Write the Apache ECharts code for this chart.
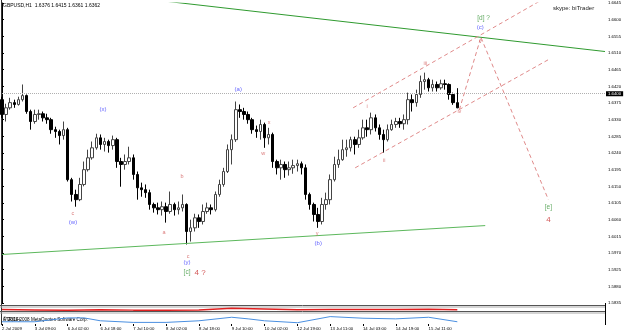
<!DOCTYPE html>
<html>
<head>
<meta charset="utf-8">
<script src="https://cdn.jsdelivr.net/npm/echarts@6/dist/echarts.min.js"></script>
<style>
html,body{margin:0;padding:0;background:#fff}
#ch{width:625px;height:334px}
</style>
</head>
<body>
<div id="ch"></div>
<script>
// GBPUSD H1, candles (2-hour steps)
var timeLabels = ['2 Jul 2009','3 Jul 09:00','6 Jul 02:00','6 Jul 18:00','7 Jul 10:00','8 Jul 02:00','8 Jul 18:00',
                  '9 Jul 10:00','10 Jul 02:00','12 Jul 19:00','13 Jul 11:00','14 Jul 03:00','14 Jul 19:00','15 Jul 11:00'];

var opens = [1.6384,1.6344,1.6362,1.6376,1.6371,1.6384,1.6395,1.6352,1.6325,1.6344,1.6346,1.6335,1.6330,1.6303,1.6298,1.6287,
  1.6303,1.6168,1.6128,1.6114,1.6155,1.6195,1.6227,1.6254,1.6281,1.6263,1.6271,1.6260,1.6276,1.6217,1.6209,1.6217,
  1.6227,1.6182,1.6146,1.6141,1.6133,1.6101,1.6092,1.6087,1.6095,1.6082,1.6101,1.6087,1.6092,1.6101,1.6028,1.6038,
  1.6065,1.6055,1.6082,1.6092,1.6087,1.6128,1.6155,1.6190,1.6249,1.6276,1.6357,1.6352,1.6344,1.6330,1.6303,1.6298,
  1.6317,1.6281,1.6290,1.6217,1.6200,1.6209,1.6195,1.6200,1.6206,1.6211,1.6200,1.6128,1.6101,1.6074,1.6055,1.6101,
  1.6114,1.6168,1.6209,1.6222,1.6249,1.6254,1.6276,1.6263,1.6281,1.6308,1.6303,1.6335,1.6308,1.6290,1.6276,1.6303,
  1.6317,1.6325,1.6319,1.6330,1.6384,1.6376,1.6398,1.6433,1.6438,1.6416,1.6425,1.6416,1.6427,1.6425,1.6398,1.6376];
var closes = [1.6344,1.6362,1.6376,1.6371,1.6384,1.6395,1.6352,1.6325,1.6344,1.6346,1.6335,1.6330,1.6303,1.6298,1.6287,1.6303,
  1.6168,1.6128,1.6114,1.6155,1.6195,1.6227,1.6254,1.6281,1.6263,1.6271,1.6260,1.6276,1.6217,1.6209,1.6217,1.6227,
  1.6182,1.6146,1.6141,1.6133,1.6101,1.6092,1.6087,1.6095,1.6082,1.6101,1.6087,1.6092,1.6101,1.6028,1.6038,1.6065,
  1.6055,1.6082,1.6092,1.6087,1.6128,1.6155,1.6190,1.6249,1.6276,1.6357,1.6352,1.6344,1.6330,1.6303,1.6298,1.6317,
  1.6281,1.6290,1.6217,1.6200,1.6209,1.6195,1.6200,1.6206,1.6211,1.6200,1.6128,1.6101,1.6074,1.6055,1.6101,1.6114,
  1.6168,1.6209,1.6222,1.6249,1.6254,1.6276,1.6263,1.6281,1.6308,1.6303,1.6335,1.6308,1.6290,1.6276,1.6303,1.6317,
  1.6325,1.6319,1.6330,1.6384,1.6376,1.6398,1.6433,1.6438,1.6416,1.6425,1.6416,1.6427,1.6425,1.6398,1.6376,1.6362];
var lows = [1.6335,1.6325,1.6357,1.6362,1.6368,1.6379,1.6346,1.6303,1.6319,1.6330,1.6325,1.6319,1.6292,1.6281,1.6263,1.6276,
  1.6163,1.6109,1.6095,1.6110,1.6150,1.6190,1.6222,1.6249,1.6249,1.6244,1.6241,1.6249,1.6200,1.6149,1.6195,1.6209,
  1.6168,1.6114,1.6122,1.6119,1.6087,1.6079,1.6074,1.6071,1.6052,1.6076,1.6071,1.6074,1.6082,1.5993,1.6001,1.6028,
  1.6038,1.6047,1.6076,1.6074,1.6082,1.6122,1.6149,1.6186,1.6209,1.6270,1.6335,1.6330,1.6319,1.6292,1.6281,1.6276,
  1.6254,1.6263,1.6200,1.6182,1.6168,1.6173,1.6179,1.6184,1.6190,1.6182,1.6114,1.6087,1.6055,1.6038,1.6047,1.6087,
  1.6101,1.6163,1.6200,1.6219,1.6230,1.6244,1.6236,1.6254,1.6276,1.6284,1.6290,1.6298,1.6276,1.6241,1.6271,1.6300,
  1.6308,1.6308,1.6303,1.6317,1.6352,1.6365,1.6389,1.6411,1.6406,1.6406,1.6406,1.6411,1.6411,1.6384,1.6370,1.6361];
var highs = [1.6392,1.6373,1.6389,1.6384,1.6392,1.6425,1.6398,1.6357,1.6357,1.6357,1.6352,1.6346,1.6335,1.6311,1.6303,1.6325,
  1.6308,1.6173,1.6141,1.6173,1.6217,1.6249,1.6271,1.6292,1.6290,1.6281,1.6276,1.6287,1.6281,1.6227,1.6236,1.6257,
  1.6236,1.6190,1.6160,1.6155,1.6141,1.6106,1.6106,1.6109,1.6106,1.6136,1.6106,1.6109,1.6128,1.6104,1.6060,1.6076,
  1.6074,1.6101,1.6106,1.6101,1.6136,1.6168,1.6200,1.6263,1.6290,1.6379,1.6371,1.6362,1.6352,1.6335,1.6314,1.6330,
  1.6322,1.6308,1.6295,1.6222,1.6222,1.6217,1.6217,1.6222,1.6222,1.6217,1.6209,1.6133,1.6106,1.6092,1.6119,1.6133,
  1.6182,1.6230,1.6249,1.6276,1.6276,1.6284,1.6284,1.6303,1.6330,1.6330,1.6349,1.6344,1.6317,1.6303,1.6317,1.6330,
  1.6335,1.6335,1.6344,1.6403,1.6398,1.6411,1.6449,1.6457,1.6443,1.6438,1.6433,1.6438,1.6438,1.6428,1.6403,1.6415];

var barCount = 148;          // slots on the time axis, incl. empty space on the right
var priceTicks = {min: 1.5835, max: 1.6645, step: 0.0045};

// ATR(14) and the small oscillator panel, read every 8 bars
var atrIdx  = [0, 8, 16, 20, 24, 32, 40, 48, 56, 60, 64, 72, 80, 88, 96, 104, 111];
var atrVals = [0.0019,0.0019,0.0031,0.0031,0.0022,0.0017,0.0017,0.0022,0.0033,0.0028,0.0022,0.0016,0.0035,0.0030,0.0028,0.0033,0.0019];
var atrLevels = [0.0040, 0.0015];
var oscIdx  = [0, 8, 16, 24, 32, 40, 48, 56, 64, 72, 80, 88, 96, 104, 111];
var oscVals = [0.4,0.3,0.2,0.35,0.25,0.25,0.3,0.8,0.6,0.35,0.4,0.45,0.45,0.5,0.35];

// trend lines: [bar index, price]
var greenTop    = [[40.5, 1.6649], [147, 1.6514]];
var greenBottom = [[0, 1.5966], [117.8, 1.6044]];
var channelUp   = [[85.6, 1.6362], [131.7, 1.6654]];
var channelLow  = [[86.1, 1.6200], [133.2, 1.6492]];
var legToV      = [[111.5, 1.6357], [116.7, 1.6551]];
var legToE      = [[116.8, 1.6551], [133.2, 1.6114]];

// wave labels: [text, bar index, price, kind]
var waveLabels = [
  ['(x)', 24.6, 1.6359, 'blue'], ['(w)', 17.3, 1.6052, 'blue'], ['(a)', 57.6, 1.6411, 'blue'],
  ['(b)', 77.1, 1.5995, 'blue'], ['(y)', 45.1, 1.5944, 'blue'], ['(c)', 116.6, 1.6578, 'blue'],
  ['c', 17.3, 1.6076, 'red'], ['a', 39.5, 1.6025, 'red'], ['b', 43.9, 1.6176, 'red'], ['c', 45.4, 1.5960, 'red'],
  ['x', 65.1, 1.6322, 'red'], ['w', 63.7, 1.6238, 'red'], ['y', 76.8, 1.6022, 'red'],
  ['i', 89.0, 1.6365, 'red'], ['ii', 93.2, 1.6219, 'red'], ['iii', 103.2, 1.6481, 'red'],
  ['iv', 111.5, 1.6352, 'red'], ['v', 116.6, 1.6541, 'red'],
  ['[c]', 45.1, 1.5917, 'green'], ['[d] ?', 117.4, 1.6605, 'green'], ['[e]', 133.2, 1.6095, 'green'],
  ['4 ?', 48.3, 1.5917, 'big'], ['4', 133.2, 1.6060, 'big']
];

var FONT = 'Liberation Sans, Arial, sans-serif';
var labelStyle = {
  blue:  {color: '#3a3aff', fontSize: 6},
  red:   {color: '#d25a5a', fontSize: 5.5},
  green: {color: '#3c963c', fontSize: 6.5},
  big:   {color: '#c83030', fontSize: 8}
};

var cats = [];
for (var i = 0; i < barCount; i++) cats.push(String(i));
var candles = opens.map(function (o, k) { return [o, closes[k], lows[k], highs[k]]; });

function trend(pts, color, dashed) {
  return {
    type: 'line', xAxisIndex: 1, yAxisIndex: 0, data: pts,
    symbol: 'none', silent: true, z: 5,
    lineStyle: {color: color, width: 1, type: dashed ? [4, 3] : 'solid'}
  };
}

var chart = echarts.init(document.getElementById('ch'));
var option = {
  animation: false,
  backgroundColor: '#ffffff',
  grid: [
    {left: 2, right: 20, top: 3, bottom: 31, outerBoundsMode: 'none'},
    {left: 2, right: 20, top: 307.5, height: 3.5, outerBoundsMode: 'none'},
    {left: 2, right: 20, top: 315, height: 9, outerBoundsMode: 'none'}
  ],
  xAxis: [
    {type: 'category', gridIndex: 0, position: 'bottom', data: cats, boundaryGap: false, show: false},
    {type: 'value', gridIndex: 0, position: 'bottom', min: 0, max: barCount - 1, show: false},
    {type: 'value', gridIndex: 1, position: 'bottom', min: 0, max: barCount - 1, show: false},
    {type: 'value', gridIndex: 2, position: 'top', min: 0, max: barCount - 1, show: false},
    {
      type: 'category', gridIndex: 2, position: 'bottom', data: cats, boundaryGap: false,
      axisLine: {show: false},
      axisTick: {
        length: 2, lineStyle: {color: '#000'},
        interval: function (idx) { return idx % 8 === 0 && idx / 8 < timeLabels.length; }
      },
      axisLabel: {
        interval: 0, align: 'left', margin: 2.5, fontSize: 4.3, color: '#000', fontFamily: FONT,
        formatter: function (v, idx) { return idx % 8 === 0 && timeLabels[idx / 8] ? timeLabels[idx / 8] : ''; }
      }
    }
  ],
  yAxis: [
    {
      type: 'value', gridIndex: 0, position: 'right',
      min: priceTicks.min, max: priceTicks.max, interval: priceTicks.step,
      axisLine: {show: true, lineStyle: {color: '#000'}},
      axisTick: {show: true, length: 2, lineStyle: {color: '#000'}},
      splitLine: {show: false},
      axisLabel: {fontSize: 4.3, color: '#000', margin: 3, fontFamily: FONT,
                  formatter: function (v) { return v.toFixed(4); }}
    },
    {type: 'value', gridIndex: 1, min: 0, max: 1, show: false},
    {type: 'value', gridIndex: 2, min: 0.0012, max: 0.0040, show: false}
  ],
  graphic: [
    {type: 'line', shape: {x1: 1.5, y1: 0, x2: 1.5, y2: 325}, style: {stroke: '#333', lineWidth: 1}},
    {type: 'line', shape: {x1: 605.5, y1: 303, x2: 605.5, y2: 325}, style: {stroke: '#000', lineWidth: 1}},
    {type: 'line', shape: {x1: 0, y1: 305.5, x2: 605, y2: 305.5}, style: {stroke: '#555', lineWidth: 1}},
    {type: 'line', shape: {x1: 0, y1: 307, x2: 605, y2: 307}, style: {stroke: '#aaa', lineWidth: 1}},
    {type: 'line', shape: {x1: 0, y1: 311.5, x2: 605, y2: 311.5}, style: {stroke: '#555', lineWidth: 1}},
    {type: 'line', shape: {x1: 0, y1: 313, x2: 605, y2: 313}, style: {stroke: '#aaa', lineWidth: 1}},
    {type: 'text', x: 3, y: 3, style: {text: 'GBPUSD,H1  1.6376 1.6415 1.6361 1.6362', font: '5px ' + FONT, fill: '#000'}},
    {type: 'text', x: 553, y: 5, style: {text: 'skype: biTrader', font: '6px ' + FONT, fill: '#222'}},
    {type: 'text', x: 3, y: 317.5, style: {text: '\u00a9 2001-2008 MetaQuotes Software Corp.', font: '4.6px ' + FONT, fill: '#000'}},
    {type: 'text', x: 3, y: 317, style: {text: 'ATR(14)', font: '4.6px ' + FONT, fill: '#000'}}
  ],
  series: [
    {
      type: 'candlestick', xAxisIndex: 0, yAxisIndex: 0, data: candles,
      barWidth: 3, z: 3,
      itemStyle: {color: '#ffffff', color0: '#000000', borderColor: '#444444', borderColor0: '#000000', borderWidth: 1},
      markLine: {
        silent: true, symbol: 'none',
        lineStyle: {color: '#b0b0b0', type: 'dotted', width: 1},
        label: {position: 'end', distance: 1, backgroundColor: '#000', color: '#fff', fontSize: 4.3,
                fontFamily: FONT, padding: [1, 2, 0, 2], formatter: function (p) { return p.value.toFixed(4); }},
        data: [{yAxis: closes[closes.length - 1]}]
      }
    },
    trend(greenTop, '#2f9a2f', false),
    trend(greenBottom, '#5cb85c', false),
    trend(channelUp, '#e08a8a', true),
    trend(channelLow, '#e08a8a', true),
    trend(legToV, '#e08a8a', true),
    trend(legToE, '#e08a8a', true),
    {
      type: 'scatter', xAxisIndex: 1, yAxisIndex: 0, symbolSize: 0, silent: true, z: 10,
      data: waveLabels.map(function (w) {
        var s = labelStyle[w[3]];
        return {value: [w[1], w[2]],
                label: {show: true, position: 'inside', formatter: w[0], color: s.color, fontSize: s.fontSize, fontFamily: FONT}};
      })
    },
    {
      type: 'line', xAxisIndex: 2, yAxisIndex: 1, symbol: 'none', silent: true,
      data: oscIdx.map(function (x, k) { return [x, oscVals[k]]; }),
      lineStyle: {color: '#e02020', width: 1.5}
    },
    {
      type: 'line', xAxisIndex: 3, yAxisIndex: 2, symbol: 'none', silent: true,
      data: atrIdx.map(function (x, k) { return [x, atrVals[k]]; }),
      lineStyle: {color: '#4a8fe0', width: 1},
      markLine: {
        silent: true, symbol: 'none', label: {show: false},
        lineStyle: {color: '#888', type: 'dotted', width: 1},
        data: atrLevels.map(function (v) { return {yAxis: v}; })
      }
    }
  ]
};
chart.setOption(option);
</script>
</body>
</html>
